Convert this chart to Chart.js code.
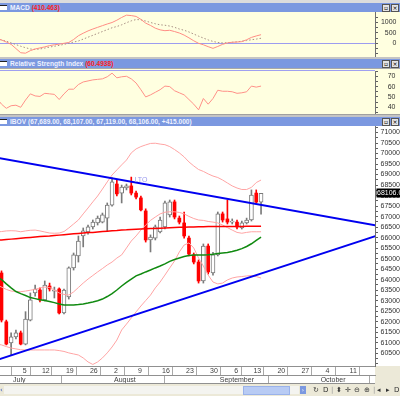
<!DOCTYPE html>
<html>
<head>
<meta charset="utf-8">
<script src="https://cdn.jsdelivr.net/npm/chart.js@4.4.0/dist/chart.umd.min.js"></script>
<style>
  body { margin: 0; width: 400px; height: 396px; overflow: hidden; position: relative; background: #d4d0c8; }
  .abs { position: absolute; left: 0; width: 400px; }
  .hdr { position: absolute; left: 0; width: 400px; height: 9px; background: #7b98e0; }
  .hdr .t { position: absolute; left: 10px; top: 0; font: bold 6.6px/9px "Liberation Sans", Arial, sans-serif; color: #eef2ff; white-space: nowrap; }
  .hdr .t b { color: #ff2020; }
  .ico { position: absolute; left: 0; top: 2px; width: 7px; height: 4px; background: #fff; border-top: 1px solid #222; }
  .btn { position: absolute; top: 1px; width: 6px; height: 6px; background: #e4e4e4; border: 1px solid #555; font: 6px/6px "DejaVu Sans", sans-serif; color: #000; text-align: center; }
  .yel { background: #ffffe0; }
  canvas { position: absolute; left: 0; }
  .sb { position: absolute; top: 384px; height: 12px; left: 0; width: 400px; background: #ece9d8; font: 7px/12px "DejaVu Sans", sans-serif; color: #333; }
  .track { position: absolute; left: 4px; top: 2px; width: 295px; height: 8px; background-color: #f4f4f0; background-image: radial-gradient(#c4c4c4 0.6px, transparent 0.7px); background-size: 2px 2px; }
  .thumb { position: absolute; left: 243px; top: 2px; width: 45px; height: 7px; background: #b8cbf4; border: 1px solid #9ab2ea; }
  .sb span { position: absolute; top: 0; }
</style>
</head>
<body>
<div class="abs" style="top:0;height:3px;background:#dcdcdc;border-bottom:0"></div>

<div class="hdr" style="top:3px"><i class="ico"></i><span class="t">MACD <b>(410.463)</b></span><i class="btn" style="left:382px">▫</i><i class="btn" style="left:391px">×</i></div>
<div class="abs yel" style="top:12px;height:45px"></div>
<canvas id="macd" width="400" height="45" style="top:12px"></canvas>
<div class="abs" style="top:57px;height:2px;background:#c4c4c4"></div>

<div class="hdr" style="top:59px"><i class="ico"></i><span class="t">Relative Strength Index <b>(60.4938)</b></span><i class="btn" style="left:382px">▫</i><i class="btn" style="left:391px">×</i></div>
<div class="abs yel" style="top:68px;height:46px;border-top:1px solid #a8a8a8;box-sizing:border-box"></div>
<div class="abs" style="top:70px;height:1px;width:375px;background:#a0a0f0"></div>
<canvas id="rsi" width="400" height="43" style="top:71px"></canvas>
<div class="abs" style="top:114px;height:3px;background:#c4c4c4;border-top:1px solid #a0a0a0;box-sizing:border-box"></div>

<div class="hdr" style="top:117px"><i class="ico"></i><span class="t">IBOV (67,689.00, 68,107.00, 67,119.00, 68,106.00, +415.000)</span><i class="btn" style="left:382px">▫</i><i class="btn" style="left:391px">×</i></div>
<div class="abs" style="top:126px;height:258px;background:#fff"></div>
<div class="abs" style="top:366px;left:375px;width:25px;height:18px;background:#ece9d8"></div>
<canvas id="main" width="400" height="258" style="top:126px"></canvas>
<div class="abs" style="top:383px;height:1px;width:375px;background:#909090"></div>

<div class="sb">
  <span style="left:0;color:#3050c0">‹</span>
  <div class="track"></div>
  <div class="thumb"></div>
  <span style="left:300px;top:2px;width:6px;height:8px;background:#7b98e0;color:#fff;font-size:6px;line-height:8px;text-align:center">›</span>
  <span style="left:313px">↻</span><span style="left:323px">D</span><span style="left:331px;color:#999">|</span>
  <span style="left:336px">⬍</span><span style="left:345px">✛</span><span style="left:354px">⊖</span><span style="left:364px">⊕</span>
  <span style="left:373px;color:#999">|</span><span style="left:377px">◂</span><span style="left:386px">▸</span><span style="left:394px">D</span>
</div>

<script>
// trading days shown on the axis (2010); data below runs to 09-15
const dates = [
  '2010-06-28','2010-06-29','2010-06-30','2010-07-01','2010-07-02',
  '2010-07-05','2010-07-06','2010-07-07','2010-07-08',
  '2010-07-12','2010-07-13','2010-07-14','2010-07-15','2010-07-16',
  '2010-07-19','2010-07-20','2010-07-21','2010-07-22','2010-07-23',
  '2010-07-26','2010-07-27','2010-07-28','2010-07-29','2010-07-30',
  '2010-08-02','2010-08-03','2010-08-04','2010-08-05','2010-08-06',
  '2010-08-09','2010-08-10','2010-08-11','2010-08-12','2010-08-13',
  '2010-08-16','2010-08-17','2010-08-18','2010-08-19','2010-08-20',
  '2010-08-23','2010-08-24','2010-08-25','2010-08-26','2010-08-27',
  '2010-08-30','2010-08-31','2010-09-01','2010-09-02','2010-09-03',
  '2010-09-06','2010-09-08','2010-09-09','2010-09-10',
  '2010-09-13','2010-09-14','2010-09-15','2010-09-16','2010-09-17',
  '2010-09-20','2010-09-21','2010-09-22','2010-09-23','2010-09-24',
  '2010-09-27','2010-09-28','2010-09-29','2010-09-30','2010-10-01',
  '2010-10-04','2010-10-05','2010-10-06','2010-10-07','2010-10-08',
  '2010-10-11','2010-10-12','2010-10-13','2010-10-14','2010-10-15',
  '2010-10-18'
];
const monthNames = ['January','February','March','April','May','June','July','August','September','October','November','December'];

const open  = [null, 64320, 62000, 60990, 61280, 61470, 60940, 62080, 63370, 63510, 63040, 63700, 63460, 63560, 62420, 63180, 64560, 65130, 66080, 66270, 66510, 66700, 66740, 66930, 67550, 68550, 68120, 68360, 68460, 68120, 67890, 67270, 65890, 65980, 66270, 66510, 67080, 67700, 66930, 66700, 65980, 65180, 64840, 63940, 65600, 64320, 65180, 67130, 66890, 66740, 66740, 66460, 66700, 66840, 68120, 67689];
const high  = [null, 64420, 62080, 61470, 61610, 61560, 62480, 63370, 63750, 63610, 63940, 63840, 63650, 63610, 63560, 64610, 65270, 66080, 66460, 66600, 66840, 67030, 67170, 67650, 68840, 68740, 68500, 68550, 68880, 68220, 67980, 67370, 66130, 66600, 66980, 67740, 67790, 67790, 67030, 67220, 66080, 65270, 64940, 65700, 65700, 65300, 67220, 67220, 67790, 66890, 66840, 66790, 66930, 68270, 68270, 68107];
const low   = [null, 61990, 60900, 60420, 61180, 60900, 60900, 62040, 63220, 62940, 62990, 63460, 63130, 62370, 62370, 63080, 64460, 64840, 65560, 66170, 66410, 66600, 66700, 66320, 67500, 67980, 67650, 68270, 68030, 67840, 67270, 65790, 65320, 65890, 66220, 66410, 66980, 66890, 66650, 65980, 65130, 64750, 63840, 63840, 64270, 64220, 65130, 66740, 66650, 66650, 66410, 66410, 66650, 66790, 67650, 67119];
const close = [null, 62080, 60940, 61280, 61470, 60940, 62130, 63040, 63560, 63040, 63750, 63560, 63510, 62420, 63510, 64560, 65180, 65840, 66320, 66510, 66740, 66930, 67080, 67550, 68650, 68080, 68410, 68460, 68120, 67930, 67320, 65890, 66030, 66510, 66840, 67650, 67700, 66980, 66740, 66080, 65220, 64840, 63940, 65600, 64370, 65180, 67130, 66840, 66740, 66790, 66510, 66700, 66840, 68030, 67690, 68106];

const bandUp  = [66270, 66290, 66320, 66330, 66320, 66280, 66320, 66350, 66360, 66320, 66270, 66220, 66210, 66220, 66290, 66460, 66650, 66840, 67130, 67410, 67700, 67980, 68310, 68650, 68980, 69220, 69460, 69690, 70030, 70220, 70330, 70410, 70480, 70490, 70450, 70420, 70330, 70190, 70030, 69840, 69600, 69410, 69240, 69150, 69030, 68930, 68860, 68740, 68600, 68460, 68360, 68290, 68290, 68390, 68620, 68740];
const bandMid = [63750, 63650, 63540, 63460, 63440, 63430, 63460, 63500, 63540, 63610, 63650, 63630, 63510, 63370, 63300, 63270, 63420, 63630, 63840, 64030, 64200, 64370, 64530, 64700, 64840, 65030, 65180, 65510, 65840, 66080, 66360, 66600, 66820, 66980, 67130, 67210, 67230, 67230, 67200, 67130, 67010, 66910, 66840, 66820, 66770, 66740, 66700, 66600, 66480, 66360, 66250, 66210, 66250, 66280, 66280, 66280];
const bandLow = [60940, 60900, 60820, 60750, 60710, 60670, 60660, 60660, 60660, 60660, 60660, 60660, 60660, 60630, 60590, 60520, 60470, 60420, 60280, 60090, 59970, 60090, 60280, 60520, 60800, 61130, 61610, 61890, 62180, 62470, 62750, 63010, 63270, 63610, 63890, 64220, 64560, 64890, 65320, 65650, 65750, 65510, 65030, 64650, 64220, 63890, 63800, 63840, 63990, 64080, 64130, 64150, 64180, 64200, 64150, 64080];
const maGreen = [64150, 64010, 63800, 63610, 63440, 63340, 63250, 63150, 63100, 63050, 63010, 62960, 62910, 62850, 62800, 62800, 62800, 62820, 62850, 62890, 62940, 63000, 63080, 63200, 63340, 63510, 63700, 63870, 64030, 64180, 64270, 64370, 64460, 64560, 64650, 64750, 64870, 64960, 65030, 65100, 65150, 65180, 65180, 65180, 65190, 65210, 65250, 65270, 65290, 65340, 65400, 65480, 65580, 65710, 65870, 66020];
const maRed   = [65875, 65890, 65910, 65930, 65950, 65970, 65990, 66010, 66030, 66050, 66070, 66080, 66100, 66120, 66140, 66160, 66180, 66200, 66220, 66240, 66250, 66270, 66290, 66310, 66330, 66340, 66360, 66370, 66390, 66400, 66410, 66420, 66430, 66440, 66450, 66460, 66470, 66480, 66490, 66500, 66505, 66510, 66520, 66520, 66525, 66525, 66530, 66530, 66530, 66535, 66535, 66535, 66540, 66540, 66540, 66540];

// trendlines: [date index, value] at both ends
const trendDown = [[0, 69800], [79, 66580]];
const trendUp   = [[0, 60180], [79, 66090]];

const macd   = [260, 160, 60, -50, -250, -450, -470, -350, -270, -220, -170, -110, -70, -40, 0, 40, 180, 360, 480, 590, 680, 760, 840, 920, 990, 1100, 1230, 1340, 1320, 1280, 1140, 960, 850, 720, 640, 600, 620, 560, 490, 390, 260, 120, 0, -70, -160, -240, -150, -50, 20, 50, 60, 80, 170, 280, 350, 410];
const signal = [200, 160, 100, 20, -60, -140, -210, -270, -290, -270, -230, -180, -140, -100, -50, 0, 60, 110, 200, 290, 380, 470, 560, 650, 740, 800, 880, 980, 1070, 1130, 1120, 1060, 990, 930, 880, 860, 820, 760, 680, 620, 540, 440, 340, 250, 160, 90, 40, 20, 30, 50, 70, 100, 130, 170, 200, 240];
const rsi    = [49, 43, 39, 41.5, 42, 40, 47, 53, 51, 50.5, 53.5, 53, 52.5, 47.5, 53, 57.5, 57.5, 62, 64.5, 65.5, 66.5, 67, 67.5, 69.5, 73, 68.5, 69.5, 70, 67.5, 63.5, 57, 50, 52, 54.5, 57, 60.5, 60, 56, 54, 52, 47.5, 43, 37.5, 48.5, 43, 48.5, 56.5, 55.5, 55.5, 55, 53.5, 54, 55, 60.5, 59.5, 60.5];

const note = { text: 'LTO', at: 30, value: 68760 };

// visible window in date-index units
const X_MIN = 0.6875, X_MAX = 78.708;

Chart.defaults.font.family = '"Liberation Sans", Arial, sans-serif';
Chart.defaults.animation = false;
Chart.defaults.plugins.legend.display = false;
Chart.defaults.plugins.tooltip.enabled = false;

const mondays = [], monthStarts = [];
dates.forEach((s, j) => {
  if (new Date(s + 'T00:00:00').getDay() === 1) mondays.push(j);
  if (j > 0 && s.slice(5, 7) !== dates[j - 1].slice(5, 7)) monthStarts.push(j);
});

const pts = arr => arr.map((v, j) => ({ x: j, y: v }));
const hiddenX = () => ({ type: 'linear', min: X_MIN, max: X_MAX, display: false, offset: false });

function rightAxis(min, max, step, showLabel, width, zeroColor) {
  return {
    position: 'right', min, max,
    afterBuildTicks: s => {
      const t = [];
      for (let v = Math.ceil(min / step) * step; v <= max; v += step) t.push({ value: v });
      s.ticks = t;
    },
    afterFit: s => { s.width = width; s.paddingTop = 0; s.paddingBottom = 0; },
    ticks: { autoSkip: false, crossAlign: 'far', padding: 1, color: '#303030', font: { size: 7 },
      callback: v => showLabel(v) ? String(v) : '' },
    grid: { drawOnChartArea: !!zeroColor, drawTicks: true, tickLength: 3, tickColor: '#606060',
      color: c => (zeroColor && c.tick && c.tick.value === 0) ? zeroColor : 'rgba(0,0,0,0)' },
    border: { display: true, color: '#707070' }
  };
}

function bottomAxis(ticksAt, label, weight) {
  return {
    type: 'linear', min: X_MIN, max: X_MAX, offset: false, position: 'bottom', weight,
    afterBuildTicks: s => { s.ticks = ticksAt.filter(j => j >= X_MIN && j <= X_MAX).map(j => ({ value: j })); },
    afterFit: s => { s.height = 9; s.paddingLeft = 0; s.paddingRight = 0; },
    ticks: { autoSkip: false, maxRotation: 0, align: 'start', padding: -8.2, color: '#404040', font: { size: 7 },
      callback: v => v > 76 ? '' : label(dates[v]) },
    grid: { drawOnChartArea: false, drawTicks: true, tickLength: 9, tickColor: '#a8a8a8' },
    border: { display: true, color: '#909090' }
  };
}

new Chart(document.getElementById('macd'), {
  type: 'line',
  data: { datasets: [
    { data: pts(macd), borderColor: '#ff8c84', borderWidth: 1, pointRadius: 0 },
    { data: pts(signal), borderColor: '#a89084', borderWidth: 1, borderDash: [1.5, 2], pointRadius: 0 }
  ] },
  options: {
    responsive: false, devicePixelRatio: 1, layout: { padding: { right: 3.5 } },
    scales: { x: hiddenX(), y: rightAxis(-652, 1490, 250, v => v >= 0 && v % 500 === 0, 21.5, '#9c9cf0') }
  }
});

new Chart(document.getElementById('rsi'), {
  type: 'line',
  data: { datasets: [
    { data: pts(rsi), borderColor: '#ff9088', borderWidth: 1, pointRadius: 0 }
  ] },
  options: {
    responsive: false, devicePixelRatio: 1, layout: { padding: { right: 4.5 } },
    scales: { x: hiddenX(), y: rightAxis(33.5, 75.1, 5, v => v % 10 === 0 && v >= 40 && v <= 70, 20.5) }
  }
});

const idx = close.map((c, j) => j).filter(j => close[j] != null);
const isUp = j => close[j] >= open[j];

const wicks = idx.map(j => ({ x: j, y: [low[j], high[j]] }));
const upBodies = idx.filter(isUp).map(j => ({ x: j, y: [open[j], close[j]] }));
const downBodies = idx.filter(j => !isUp(j)).map(j => ({ x: j, y: [open[j], close[j]] }));

const lastBox = {
  id: 'lastBox',
  afterDraw(chart) {
    const { ctx, scales, chartArea } = chart;
    const last = close[close.length - 1];
    const y = scales.y.getPixelForValue(last);
    ctx.save();
    ctx.fillStyle = '#000';
    ctx.fillRect(chartArea.right + 1.5, Math.round(y) - 4.5, 24, 9);
    ctx.fillStyle = '#fff';
    ctx.font = '7px "Liberation Sans", Arial, sans-serif';
    ctx.textBaseline = 'middle';
    ctx.fillText(last.toFixed(2), chartArea.right + 2, Math.round(y));
    ctx.fillStyle = '#9a9aee';
    ctx.textAlign = 'center';
    ctx.fillText(note.text, scales.x.getPixelForValue(note.at), scales.y.getPixelForValue(note.value));
    ctx.restore();
  }
};

const line = (data, color, width, order) => ({
  type: 'line', data, borderColor: color, borderWidth: width, pointRadius: 0, order
});

new Chart(document.getElementById('main'), {
  type: 'bar',
  data: { datasets: [
    { data: wicks, backgroundColor: wicks.map(w => isUp(w.x) ? '#7a7a7a' : '#ff0000'), barThickness: 1, grouped: false, order: 10 },
    { data: upBodies, backgroundColor: '#ffffff', borderColor: '#7a7a7a', borderWidth: 1, borderSkipped: false, barThickness: 4, minBarLength: 1, grouped: false, order: 9 },
    { data: downBodies, backgroundColor: '#ff0000', borderWidth: 0, barThickness: 3, minBarLength: 1, grouped: false, order: 9 },
    line(pts(bandUp), '#ffa4a4', 1, 6),
    line(pts(bandMid), '#ffa4a4', 1, 6),
    line(pts(bandLow), '#ffa4a4', 1, 6),
    line(pts(maRed), '#ff0000', 1.5, 4),
    line(pts(maGreen), '#108a10', 1.5, 4),
    line(trendDown.map(([x, y]) => ({ x, y })), '#0000f0', 2, 1),
    line(trendUp.map(([x, y]) => ({ x, y })), '#0000f0', 2, 1)
  ] },
  options: {
    responsive: false, devicePixelRatio: 1, layout: { padding: 0 },
    scales: {
      x: bottomAxis(mondays, s => ' ' + Number(s.slice(8)), 0),
      xm: bottomAxis(monthStarts, s => ' ' + monthNames[Number(s.slice(5, 7)) - 1], 1),
      y: rightAxis(59897, 71309, 250, v => v % 500 === 0 && v >= 60500, 25)
    }
  },
  plugins: [lastBox]
});
</script>
</body>
</html>
